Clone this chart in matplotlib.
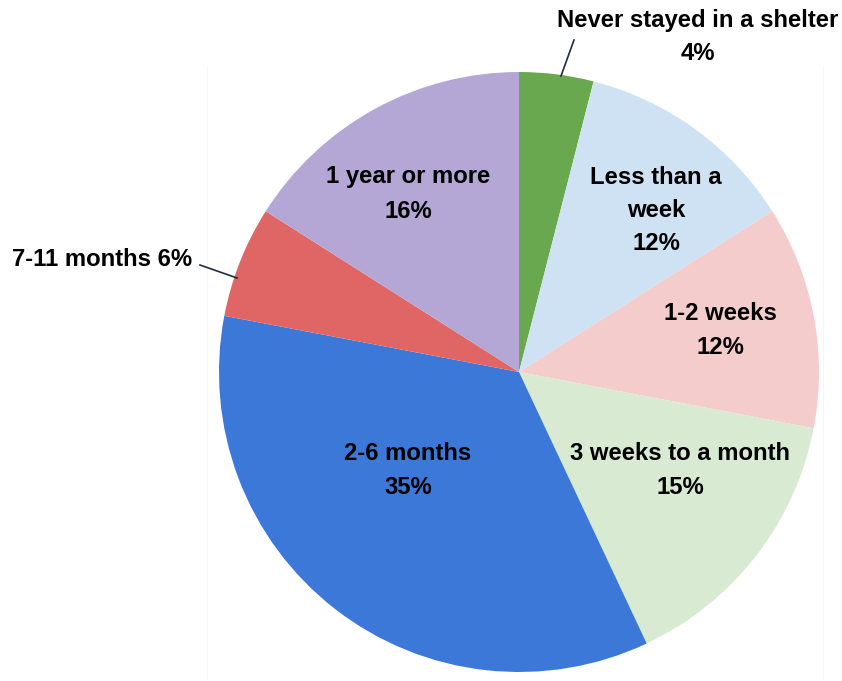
import matplotlib
matplotlib.use("Agg")
import matplotlib.pyplot as plt

# Time spent in a shelter
categories = ["Never stayed in a shelter", "Less than a week", "1-2 weeks",
              "3 weeks to a month", "2-6 months", "7-11 months", "1 year or more"]
shares = [4, 12, 12, 15, 35, 6, 16]
colors = ["#6aa84f", "#cfe2f3", "#f4cccc", "#d9ead3", "#3c78d8", "#e06666", "#b4a7d6"]

W, H = 842, 681
fig = plt.figure(figsize=(W / 100, H / 100), dpi=100)
ax = fig.add_axes([0, 0, 1, 1])

plt.rcParams["font.family"] = ["Liberation Sans", "DejaVu Sans"]

cx, cy, r = 519, H - 372, 300

# faint chart-area side edges
for xe in (207, 823):
    ax.plot([xe, xe], [0, H - 66], color="#f6f6f6", lw=0.8, zorder=0)

ax.pie(shares, colors=colors, startangle=90, counterclock=False,
       center=(cx, cy), radius=r, frame=True,
       wedgeprops=dict(linewidth=0, edgecolor="white"))

ax.set_xlim(0, W)
ax.set_ylim(0, H)
ax.set_aspect("equal")
ax.axis("off")

fs = 17.2
dy = 2
def label(lines, x, y_top, step=34):
    for i, t in enumerate(lines):
        ax.text(x, H - (y_top + dy + i * step), t, ha="center", va="center",
                fontsize=fs, fontweight="bold", color="black")

label([categories[0], f"{shares[0]}%"], 698, 19, step=33)
label(["Less than a", "week", f"{shares[1]}%"], 656, 175, step=33.5)
label([categories[2], f"{shares[2]}%"], 720, 312)
label([categories[3], f"{shares[3]}%"], 680, 452)
label([categories[4], f"{shares[4]}%"], 408, 452)
label([categories[6], f"{shares[6]}%"], 408, 175)
ax.text(102, H - 257 - dy, f"{categories[5]} {shares[5]}%", ha="center", va="center",
        fontsize=fs, fontweight="bold", color="black")

# leader lines
ax.plot([561, 574], [H - 76, H - 40], color="#1f2d3d", lw=1.2)
ax.plot([200, 237], [H - 265, H - 278], color="#1f2d3d", lw=1.2)

fig.savefig("out.png", dpi=100)
